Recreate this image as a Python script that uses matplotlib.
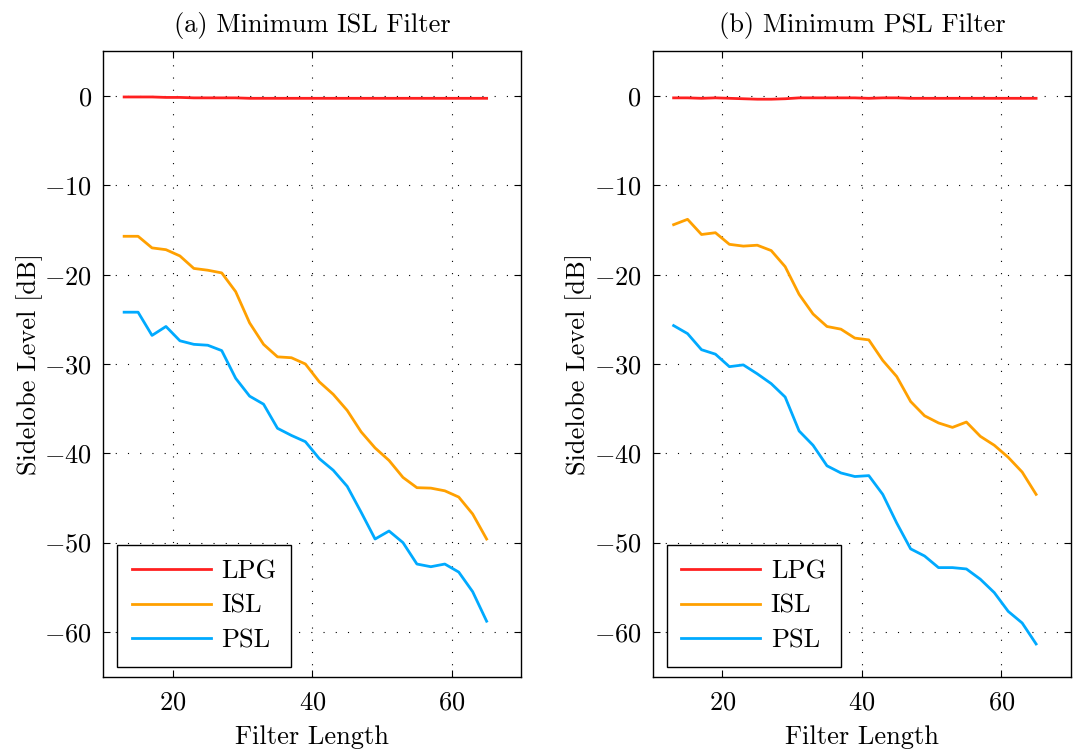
import matplotlib
matplotlib.use("Agg")
import matplotlib.pyplot as plt

# filter lengths
filter_len = [13, 15, 17, 19, 21, 23, 25, 27, 29, 31, 33, 35, 37, 39,
              41, 43, 45, 47, 49, 51, 53, 55, 57, 59, 61, 63, 65]

# (a) minimum ISL filter
lpg_a = [-0.1, -0.1, -0.1, -0.15, -0.15, -0.2, -0.2, -0.2, -0.2, -0.25, -0.25, -0.25, -0.25, -0.25,
         -0.25, -0.25, -0.25, -0.25, -0.25, -0.25, -0.25, -0.25, -0.25, -0.25, -0.25, -0.25, -0.25]
isl_a = [-15.7, -15.7, -17.0, -17.2, -17.9, -19.3, -19.5, -19.8, -21.9, -25.4, -27.8, -29.2, -29.3, -30.0,
         -32.0, -33.4, -35.2, -37.6, -39.4, -40.8, -42.7, -43.85, -43.9, -44.2, -44.9, -46.8, -49.6]
psl_a = [-24.2, -24.2, -26.8, -25.8, -27.4, -27.8, -27.9, -28.5, -31.6, -33.6, -34.5, -37.2, -38.0, -38.7,
         -40.6, -41.9, -43.7, -46.6, -49.6, -48.7, -50.0, -52.4, -52.7, -52.4, -53.3, -55.5, -58.8]

# (b) minimum PSL filter
lpg_b = [-0.2, -0.2, -0.25, -0.2, -0.25, -0.3, -0.35, -0.35, -0.3, -0.2, -0.2, -0.2, -0.2, -0.2,
         -0.25, -0.2, -0.2, -0.25, -0.25, -0.25, -0.25, -0.25, -0.25, -0.25, -0.25, -0.25, -0.25]
isl_b = [-14.4, -13.8, -15.5, -15.3, -16.6, -16.8, -16.7, -17.3, -19.1, -22.2, -24.4, -25.8, -26.1, -27.1,
         -27.3, -29.6, -31.4, -34.2, -35.8, -36.6, -37.1, -36.5, -38.1, -39.1, -40.45, -42.1, -44.6]
psl_b = [-25.7, -26.6, -28.4, -28.9, -30.3, -30.1, -31.1, -32.2, -33.7, -37.5, -39.1, -41.4, -42.2, -42.6,
         -42.5, -44.6, -47.8, -50.7, -51.5, -52.8, -52.8, -52.95, -54.1, -55.6, -57.7, -59.0, -61.35]

titles = ["(a) Minimum ISL Filter", "(b) Minimum PSL Filter"]

plt.rcParams["font.family"] = "serif"
plt.rcParams["font.serif"] = ["cmr10"]
plt.rcParams["mathtext.fontset"] = "cm"
plt.rcParams["axes.formatter.use_mathtext"] = True
plt.rcParams["font.size"] = 19
plt.rcParams["axes.titlesize"] = 19

fig = plt.figure(figsize=(10.73, 7.54), dpi=100)
ax1 = fig.add_axes([0.0962, 0.1027, 0.3898, 0.8291])
ax2 = fig.add_axes([0.6083, 0.1027, 0.3898, 0.8291])

for ax, title, lpg, isl, psl in [(ax1, titles[0], lpg_a, isl_a, psl_a),
                                 (ax2, titles[1], lpg_b, isl_b, psl_b)]:
    ax.plot(filter_len, lpg, color="#ff2020", lw=2.0, label="LPG")
    ax.plot(filter_len, isl, color="#ffa000", lw=2.0, label="ISL")
    ax.plot(filter_len, psl, color="#00aaff", lw=2.0, label="PSL")
    ax.set_xlim(10, 70)
    ax.set_ylim(-65, 5)
    ax.set_xticks([20, 40, 60])
    ax.set_yticks([0, -10, -20, -30, -40, -50, -60])
    ax.grid(True, color="black", linestyle=(0, (1, 10)), lw=0.8)
    ax.tick_params(direction="in", top=True, right=True, length=5, width=0.8)
    ax.tick_params(axis="x", pad=10)
    ax.tick_params(axis="y", pad=8)
    for s in ax.spines.values():
        s.set_linewidth(1.0)
    ax.set_title(title, pad=14)
    ax.set_xlabel("Filter Length", labelpad=8)
    ax.set_ylabel("Sidelobe Level [dB]", labelpad=1)
    leg = ax.legend(loc="lower left", bbox_to_anchor=(0.033, 0.015), borderaxespad=0,
                    fancybox=False, framealpha=1, edgecolor="black", handlelength=3.0,
                    handletextpad=0.4, borderpad=0.55, labelspacing=0.42)
    leg.get_frame().set_linewidth(1.0)

fig.savefig("out.png", dpi=100)
